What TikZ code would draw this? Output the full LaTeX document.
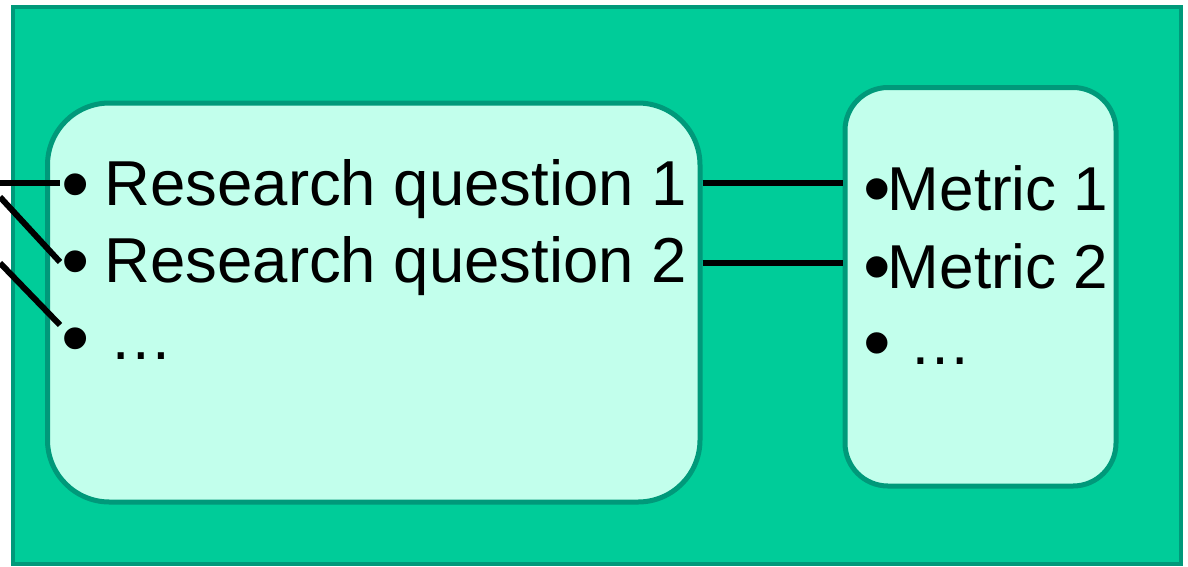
\documentclass[tikz,border=0pt]{standalone}
\usepackage{fontspec}
\setmainfont{Liberation Sans}
\definecolor{outerfill}{HTML}{00CC99}
\definecolor{edgegreen}{HTML}{00997A}
\definecolor{innerfill}{HTML}{C2FFEC}
\newcommand\bigbul{\makebox[0.35em][c]{\raisebox{-0.095em}{\scalebox{1.27}{•}}}}
\begin{document}
\begin{tikzpicture}[x=1pt,y=-1pt,
  framebox/.style={draw=edgegreen,fill=outerfill,line width=4.5pt,inner sep=0pt},
  itembox/.style={draw=edgegreen,fill=innerfill,line width=5pt,inner sep=0pt},
  itemtext/.style={anchor=base west,inner sep=0pt,font=\fontsize{63.5}{75}\selectfont},
  metrictext/.style={anchor=base west,inner sep=0pt,font=\fontsize{62}{74}\selectfont},
  conn/.style={draw=black,line width=6pt}]
\useasboundingbox (0,0) rectangle (1188,566);
\node[framebox,minimum width=1168pt,minimum height=557pt] (frame) at (597,285.5) {};
\node[itembox,minimum width=652.5pt,minimum height=399pt,rounded corners=62pt] (lbox) at (373.75,302.5) {};
\node[itembox,minimum width=271pt,minimum height=398.5pt,rounded corners=43pt] (rbox) at (980.5,286.75) {};
% left items
\node[itemtext] (q1) at (64.5,205) {\bigbul{} Research question 1};
\node[itemtext] (q2) at (64.5,282) {\bigbul{} Research question 2};
\node[itemtext] (q3) at (64.5,359) {\bigbul{} \kern5pt…};
% right items
\node[metrictext] (m1) at (866,210) {\bigbul{}Metric 1};
\node[metrictext] (m2) at (866,288) {\bigbul{}Metric 2};
\node[metrictext] (m3) at (866,364) {\bigbul{} \kern4pt…};
% connectors
\coordinate (s1) at (0,183);
\coordinate (e1) at (60,183);
\coordinate (s2) at (0,197);
\coordinate (e2) at (60,262);
\coordinate (s3) at (0,263);
\coordinate (e3) at (60,325);
\draw[conn] (s1) -- (e1);
\draw[conn] (s2) -- (e2);
\draw[conn] (s3) -- (e3);
\coordinate (h1) at (0,183);
\coordinate (h2) at (0,263);
\draw[conn] (lbox.east |- h1) -- (rbox.west |- h1);
\draw[conn] (lbox.east |- h2) -- (rbox.west |- h2);
\end{tikzpicture}
\end{document}
